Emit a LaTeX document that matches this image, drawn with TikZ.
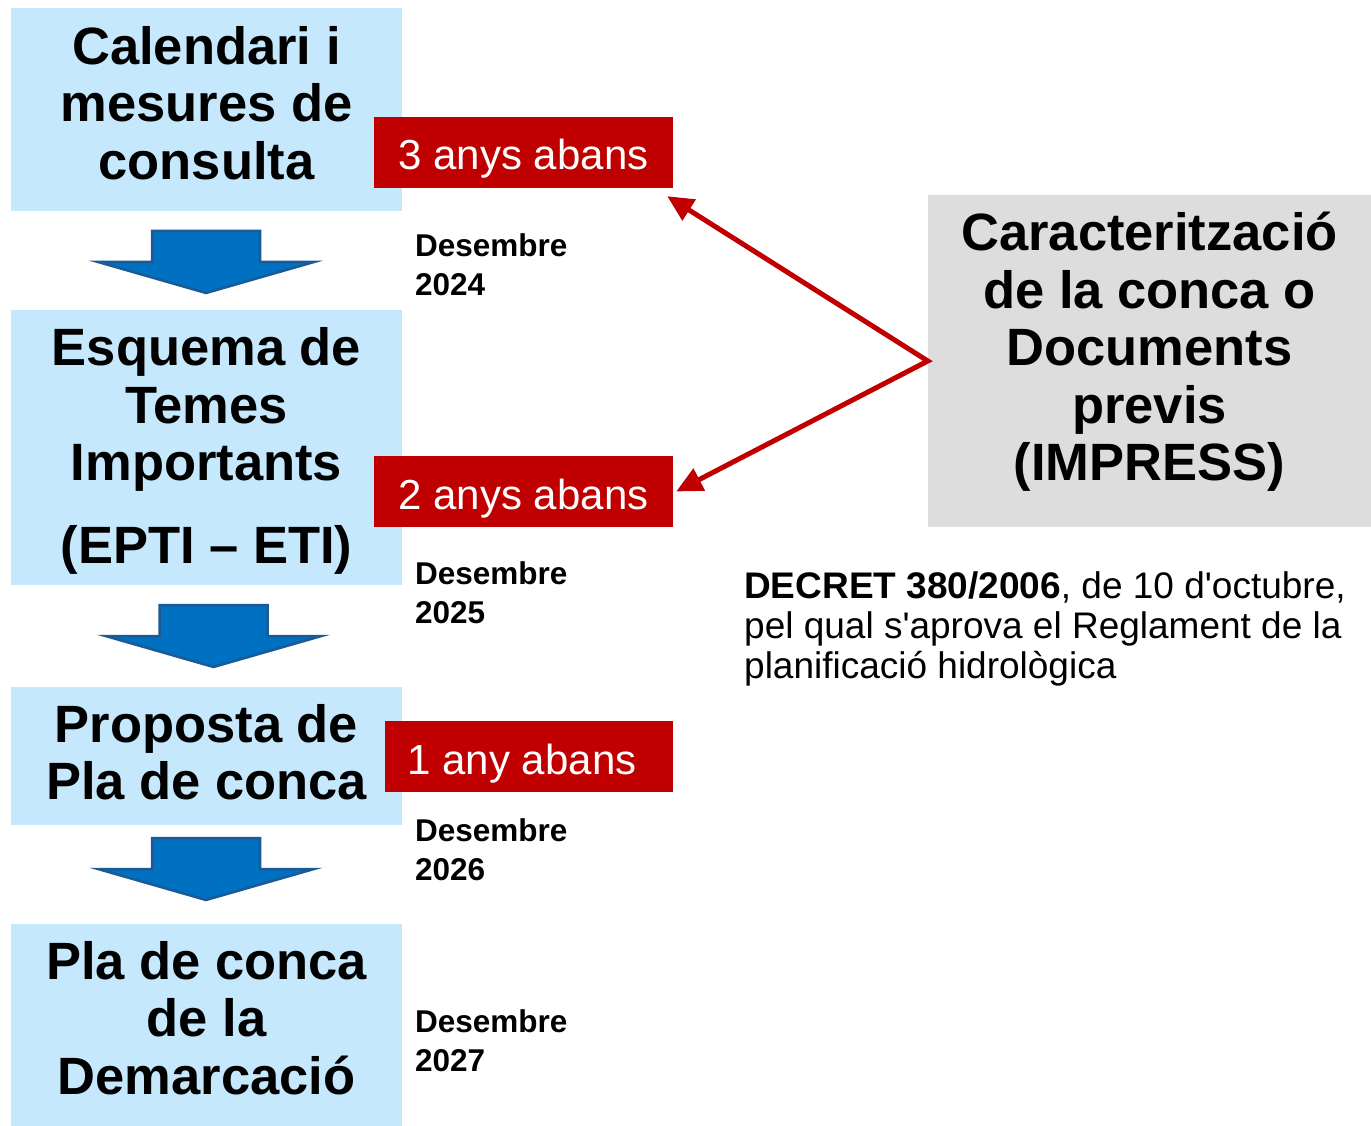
\documentclass[tikz,border=0pt]{standalone}
\usepackage{fontspec}
\setmainfont{Liberation Sans}
\usetikzlibrary{arrows.meta}
\definecolor{boxblue}{RGB}{198,232,252}
\definecolor{darkred}{RGB}{192,0,0}
\definecolor{boxgray}{RGB}{221,221,221}
\definecolor{arrowfill}{RGB}{0,112,192}
\definecolor{arrowedge}{RGB}{28,90,150}

\begin{document}
\begin{tikzpicture}[x=1pt, y=-1pt,
		stage/.style = {fill=boxblue, minimum width=391pt, inner sep=0pt, align=center,
			font=\fontsize{52.5}{57.5}\selectfont\bfseries},
		yearsbox/.style = {fill=darkred, text=white, minimum height=71pt, inner sep=0pt,
			text height=35pt, text depth=0pt, font=\fontsize{42}{48}\selectfont},
		deadline/.style = {anchor=west, inner sep=0pt, align=left,
			font=\fontsize{31.5}{39}\selectfont\bfseries},
		flowarrow/.pic = {\draw[fill=arrowfill, draw=arrowedge, line width=2.5pt]
			(-54,-31) -- (54,-31) -- (54,0) -- (108,0) -- (0,31) -- (-108,0) -- (-54,0) -- cycle;}]
	\useasboundingbox (0,0) rectangle (1371,1126);
	
	% stages (the rules only nudge the text up or down in its box)
	\node[stage, minimum height=203pt] (cal) at (206.5,109.5) {Calendari i\\mesures de\\consulta\rule[-14pt]{0pt}{14pt}};
	\node[stage, minimum height=275pt] (epti) at (206.5,447.5) {\rule{0pt}{45pt}Esquema de\\Temes\\Importants\\[25pt](EPTI – ETI)};
	\node[stage, minimum height=138pt] (proposta) at (206.5,756) {Proposta de\\Pla de conca\rule[-8pt]{0pt}{8pt}};
	\node[stage, minimum height=202pt] (pla) at (206.5,1025) {Pla de conca\\de la\\Demarcació\rule[-15pt]{0pt}{15pt}};
	
	\pic at (206,262) {flowarrow};
	\pic at (213.5,636) {flowarrow};
	\pic at (206,869) {flowarrow};
	
	\node[yearsbox, minimum width=299pt] (lab1) at (523.5,152.5) {3 anys abans};
	\node[yearsbox, minimum width=299pt] (lab2) at (523.5,491.5) {2 anys abans};
	\node[yearsbox, minimum width=288pt] (lab3) at (529,756.5) {\hspace*{-14pt}1 any abans};
	
	\node[deadline] (d24) at (415,264.5) {Desembre\\2024};
	\node[deadline] (d25) at (415,592.5) {Desembre\\2025};
	\node[deadline] (d26) at (415,849.5) {Desembre\\2026};
	\node[deadline] (d27) at (415,1040.5) {Desembre\\2027};
	
	\node[fill=boxgray, minimum width=443pt, minimum height=332pt, inner sep=0pt, align=center,
		font=\fontsize{52.5}{57.5}\selectfont\bfseries] (impress) at (1149.5,361)
		{Caracterització\\de la conca o\\Documents\\previs\\(IMPRESS)\rule[-29pt]{0pt}{29pt}};
	
	\node[anchor=west, inner sep=0pt, align=left, font=\fontsize{37}{40}\selectfont] (decret) at (744,629)
		{\textbf{DECRET 380/2006}, de 10 d\textquotesingle octubre,\\pel qual s\textquotesingle aprova el Reglament de la\\planificació hidrològica};
	
	\draw[{Triangle[length=26pt,width=24pt]}-{Triangle[length=26pt,width=24pt]}, line width=5pt, darkred]
		([xshift=-6pt,yshift=-8pt]lab1.south east) -- (impress.west) -- ([xshift=3pt]lab2.east);
\end{tikzpicture}
\end{document}
